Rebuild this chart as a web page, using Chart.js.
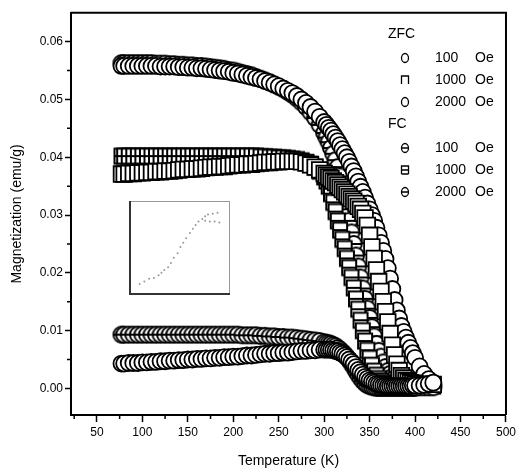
<!DOCTYPE html>
<html>
<head>
<meta charset="utf-8">
<script src="https://cdn.jsdelivr.net/npm/chart.js@4"></script>
<style>
  body { margin: 0; background: #fff; }
  #wrap { position: relative; width: 519px; height: 472px; }
  #main { display: block; }
  #inset { position: absolute; left: 128px; top: 200px; }
</style>
</head>
<body>
<div id="wrap">
  <canvas id="main" width="519" height="472"></canvas>
  <canvas id="inset" width="103" height="96"></canvas>
</div>
<script>
// temperatures (K), same for every curve (denser through the transition)
const temps = [77, 80, 85, 90, 95, 100, 105, 110, 115, 120, 125, 130, 135, 140, 145, 150, 155, 160, 165, 170,
  175, 180, 185, 190, 195, 200, 205, 210, 215, 220, 225, 230, 235, 240, 245, 250, 255, 260, 265,
  270, 275, 280, 285, 290, 295,
  300, 302.5, 305, 307.5, 310, 312.5, 315, 317.5, 320, 322.5, 325, 327.5, 330, 332.5, 335, 337.5, 340, 342.5, 345, 347.5,
  350, 352.5, 355, 357.5, 360, 362.5, 365, 367.5, 370, 372.5, 375, 377.5, 380, 382.5, 385, 387.5, 390, 392.5, 395, 397.5, 400,
  405, 410, 415, 420];

// magnetization (emu/g)
const zfc100 = [.0043, .0043, .0044, .0044, .0044, .0045, .0045, .0046, .0046, .0047, .0047, .0048, .0048, .0049, .0049, .0050, .0050, .0051, .0051, .0052,
  .0052, .0053, .0053, .0054, .0054, .0055, .0055, .0056, .0057, .0057, .0058, .0059, .0060, .0060, .0061, .0061, .0062, .0062, .0063,
  .0064, .0065, .0065, .0066, .0066, .0067,
  .0067, .0067, .0067, .0067, .0066, .0065, .0064, .0062, .0060, .0057, .0054, .0050, .0046, .0042, .0037, .0032, .0028, .0024, .0020, .0017,
  .0014, .0012, .0010, .0008, .0007, .0006, .0005, .0005, .0004, .0004, .0004, .0004, .0004, .0004, .0004, .0004, .0004, .0004, .0004, .0005, .0005,
  .0005, .0006, .0008, .0010];
const zfc1000 = [.0371, .0371, .0372, .0372, .0373, .0373, .0374, .0374, .0375, .0375, .0376, .0376, .0377, .0378, .0379, .0379, .0380, .0380, .0381, .0382,
  .0383, .0383, .0384, .0384, .0385, .0386, .0387, .0387, .0388, .0388, .0389, .0390, .0391, .0391, .0392, .0392, .0393, .0393, .0393,
  .0393, .0392, .0390, .0387, .0383, .0378,
  .0372, .0369, .0366, .0363, .0359, .0356, .0352, .0348, .0344, .0340, .0336, .0332, .0328, .0324, .0320, .0315, .0310, .0303, .0295, .0282,
  .0265, .0245, .0225, .0205, .0185, .0168, .0150, .0133, .0115, .0095, .0075, .0058, .0042, .0031, .0022, .0018, .0014, .0012, .0010, .0009, .0008,
  .0007, .0007, .0007, .0007];
const zfc2000 = [.0558, .0558, .0558, .0558, .0558, .0558, .0558, .0558, .0558, .0557, .0557, .0557, .0557, .0556, .0556, .0555, .0555, .0554, .0554, .0553,
  .0552, .0551, .0550, .0549, .0548, .0546, .0545, .0543, .0541, .0539, .0537, .0535, .0532, .0529, .0526, .0523, .0519, .0515, .0511,
  .0506, .0500, .0494, .0487, .0479, .0470,
  .0461, .0456, .0451, .0446, .0440, .0434, .0428, .0421, .0414, .0407, .0400, .0392, .0384, .0376, .0367, .0358, .0349, .0340, .0330, .0320,
  .0310, .0300, .0290, .0278, .0265, .0252, .0238, .0224, .0208, .0190, .0172, .0153, .0135, .0121, .0108, .0098, .0088, .0079, .0070, .0061, .0053,
  .0038, .0025, .0016, .0010];
const fc100 = [.0093, .0093, .0093, .0093, .0093, .0093, .0093, .0093, .0093, .0093, .0093, .0093, .0093, .0093, .0093, .0093, .0093, .0093, .0093, .0093,
  .0093, .0093, .0093, .0093, .0093, .0093, .0093, .0092, .0092, .0092, .0092, .0091, .0091, .0090, .0090, .0089, .0089, .0088, .0088,
  .0087, .0086, .0085, .0084, .0083, .0082,
  .0080, .0079, .0078, .0077, .0075, .0073, .0070, .0067, .0063, .0059, .0054, .0049, .0043, .0037, .0030, .0024, .0018, .0013, .0009, .0006,
  .0004, .0003, .0002, .0001, .0001, .0001, .0001, .0001, .0001, .0001, .0001, .0001, .0001, .0001, .0001, .0001, .0001, .0001, .0001, .0001, .0001,
  .0002, .0002, .0002, .0002];
const fc1000 = [.0402, .0402, .0402, .0402, .0402, .0402, .0402, .0402, .0402, .0402, .0402, .0402, .0402, .0402, .0402, .0402, .0402, .0402, .0402, .0402,
  .0402, .0402, .0402, .0402, .0402, .0402, .0402, .0402, .0402, .0402, .0402, .0401, .0401, .0400, .0400, .0399, .0399, .0398, .0397,
  .0396, .0394, .0391, .0388, .0383, .0376,
  .0366, .0359, .0350, .0337, .0322, .0306, .0290, .0274, .0258, .0242, .0225, .0209, .0192, .0174, .0155, .0137, .0118, .0100, .0082, .0066,
  .0052, .0040, .0030, .0023, .0017, .0013, .0010, .0008, .0007, .0006, .0005, .0005, .0004, .0004, .0004, .0004, .0004, .0004, .0004, .0004, .0004,
  .0004, .0004, .0004, .0004];
const fc2000 = [.0563, .0563, .0563, .0563, .0563, .0563, .0563, .0563, .0562, .0562, .0562, .0561, .0561, .0560, .0560, .0559, .0559, .0558, .0558, .0557,
  .0556, .0555, .0554, .0553, .0551, .0550, .0548, .0546, .0544, .0542, .0539, .0536, .0533, .0530, .0526, .0522, .0518, .0513, .0508,
  .0502, .0495, .0487, .0478, .0468, .0456,
  .0442, .0434, .0426, .0416, .0406, .0395, .0383, .0367, .0350, .0330, .0310, .0290, .0270, .0250, .0230, .0211, .0192, .0173, .0155, .0138,
  .0122, .0106, .0090, .0077, .0065, .0055, .0045, .0037, .0030, .0025, .0020, .0017, .0014, .0012, .0010, .0009, .0008, .0007, .0007, .0006, .0006,
  .0006, .0006, .0006, .0006];

// axis ticks
const xTicks = [50, 100, 150, 200, 250, 300, 350, 400, 450, 500];
const xMinor = [25, 75, 125, 175, 225, 275, 325, 375, 425, 475];
const yTicks = [0, 0.01, 0.02, 0.03, 0.04, 0.05, 0.06];
const yMinor = [0.005, 0.015, 0.025, 0.035, 0.045, 0.055];

// legend
const fields = ['100', '1000', '2000'];
const modes = ['ZFC', 'FC'];

// inset (small curve, arbitrary units)
const insetX = [8, 13, 18, 23, 28, 31, 34, 38, 41, 44, 48, 51, 54, 57, 61, 64, 67, 70, 74, 77, 80, 85, 90, 77, 82, 87, 92];
const insetY = [9, 12, 15, 16, 19, 22, 25, 28, 33, 39, 44, 51, 56, 61, 67, 72, 76, 80, 83, 86, 88, 89, 90, 81, 80, 80, 79];

const FONT = '"Liberation Sans", Arial, sans-serif';

// FC markers: open symbol with a bar through it
function makeMarker(shape) {
  const c = document.createElement('canvas');
  c.width = 20; c.height = 20;
  const g = c.getContext('2d');
  g.fillStyle = '#fff'; g.strokeStyle = '#000'; g.lineWidth = 2;
  g.beginPath();
  if (shape === 'rect') g.rect(3, 2.5, 14, 15);
  else g.arc(10, 10, 8, 0, Math.PI * 2);
  g.fill(); g.stroke();
  g.beginPath(); g.moveTo(2, 10); g.lineTo(18, 10); g.stroke();
  return c;
}

function pts(arr) {
  return temps.map((t, i) => ({ x: t, y: arr[i] }));
}

function series(arr, style, radius) {
  return {
    data: pts(arr),
    pointStyle: style,
    pointRadius: radius,
    pointHoverRadius: radius,
    borderColor: '#000',
    backgroundColor: '#fff',
    borderWidth: 1.8,
    showLine: false
  };
}

// small legend symbols
function legendSymbol(ctx, kind, bar, x, y) {
  ctx.beginPath();
  if (kind === 'rect') {
    ctx.moveTo(x - 3.5, y + 4); ctx.lineTo(x - 3.5, y - 4); ctx.lineTo(x + 3.5, y - 4); ctx.lineTo(x + 3.5, y + 4);
    if (bar) { ctx.moveTo(x - 3.5, y + 4); ctx.lineTo(x + 3.5, y + 4); }
  } else {
    ctx.ellipse(x, y, 3.5, 4.5, 0, 0, Math.PI * 2);
  }
  if (bar) { ctx.moveTo(x - 4, y); ctx.lineTo(x + 4, y); }
  ctx.stroke();
}

const extras = {
  id: 'extras',
  afterDraw(chart) {
    const { ctx, chartArea: a, scales: { x, y } } = chart;
    ctx.save();
    ctx.strokeStyle = '#000';
    ctx.lineWidth = 1.5;
    // minor ticks
    ctx.beginPath();
    xMinor.forEach(v => {
      const px = x.getPixelForValue(v);
      ctx.moveTo(px, a.bottom); ctx.lineTo(px, a.bottom + 4);
    });
    yMinor.forEach(v => {
      const py = y.getPixelForValue(v);
      ctx.moveTo(a.left, py); ctx.lineTo(a.left - 4, py);
    });
    ctx.stroke();
    // top and right side of the frame
    ctx.lineWidth = 2;
    ctx.beginPath();
    ctx.moveTo(a.left, a.top); ctx.lineTo(a.right, a.top); ctx.lineTo(a.right, a.bottom);
    ctx.stroke();

    // legend
    ctx.fillStyle = '#000';
    ctx.lineWidth = 1.3;
    ctx.font = '14px ' + FONT;
    ctx.textBaseline = 'middle';
    let rowY = 34;
    modes.forEach(m => {
      ctx.fillText(m, 388, rowY);
      rowY += 24;
      fields.forEach((f, i) => {
        legendSymbol(ctx, i === 1 ? 'rect' : 'circle', m === 'FC', 405, rowY);
        ctx.fillText(f, 435, rowY);
        ctx.fillText('Oe', 475, rowY);
        rowY += 22;
      });
    });
    ctx.restore();
  }
};

new Chart(document.getElementById('main'), {
  type: 'scatter',
  data: {
    datasets: [
      series(zfc100, 'circle', 8),
      series(zfc1000, 'rect', 11),
      series(zfc2000, 'circle', 8),
      series(fc100, makeMarker('circle'), 8),
      series(fc1000, makeMarker('rect'), 8),
      series(fc2000, makeMarker('circle'), 8)
    ]
  },
  options: {
    responsive: false,
    animation: false,
    events: [],
    layout: { padding: { left: 0, right: 11, top: 10, bottom: 0 } },
    plugins: { legend: { display: false }, tooltip: { enabled: false } },
    scales: {
      x: {
        type: 'linear',
        min: 21.5,
        max: 500,
        afterBuildTicks: s => { s.ticks = xTicks.map(v => ({ value: v })); },
        afterFit: s => { s.height = 57; },
        ticks: { color: '#000', font: { family: FONT, size: 12 }, padding: 3, maxRotation: 0, autoSkip: false },
        grid: { drawOnChartArea: false, tickLength: 7, tickColor: '#000', tickWidth: 1.5 },
        border: { color: '#000', width: 2 },
        title: { display: true, text: 'Temperature (K)', color: '#000', font: { family: FONT, size: 14 }, padding: { top: 0, bottom: 2 } }
      },
      y: {
        min: -0.0046,
        max: 0.065,
        afterBuildTicks: s => { s.ticks = yTicks.map(v => ({ value: v })); },
        afterFit: s => { s.width = 71; },
        ticks: { color: '#000', font: { family: FONT, size: 12 }, padding: 2, callback: v => v.toFixed(2) },
        grid: { drawOnChartArea: false, tickLength: 6, tickColor: '#000', tickWidth: 1.5 },
        border: { color: '#000', width: 2 },
        title: { display: true, text: 'Magnetization (emu/g)', color: '#000', font: { family: FONT, size: 14 }, padding: { top: 9, bottom: 0 } }
      }
    }
  },
  plugins: [extras]
});

// inset frame
const insetFrame = {
  id: 'insetFrame',
  afterDraw(chart) {
    const { ctx } = chart;
    const w = chart.width, h = chart.height;
    ctx.save();
    ctx.strokeStyle = '#999';
    ctx.lineWidth = 1;
    ctx.strokeRect(1.5, 1.5, w - 3, h - 3);
    ctx.strokeStyle = '#333';
    ctx.lineWidth = 2;
    ctx.beginPath();
    ctx.moveTo(2, 1); ctx.lineTo(2, h - 2); ctx.lineTo(w - 1, h - 2);
    ctx.stroke();
    ctx.restore();
  }
};

new Chart(document.getElementById('inset'), {
  type: 'scatter',
  data: {
    datasets: [{
      data: insetX.map((v, i) => ({ x: v, y: insetY[i] })),
      pointRadius: 1,
      backgroundColor: '#999',
      borderWidth: 0
    }]
  },
  options: {
    responsive: false,
    animation: false,
    events: [],
    layout: { padding: 0 },
    plugins: { legend: { display: false }, tooltip: { enabled: false } },
    scales: {
      x: { min: 0, max: 100, display: false },
      y: { min: 0, max: 100, display: false }
    }
  },
  plugins: [insetFrame]
});
</script>
</body>
</html>
